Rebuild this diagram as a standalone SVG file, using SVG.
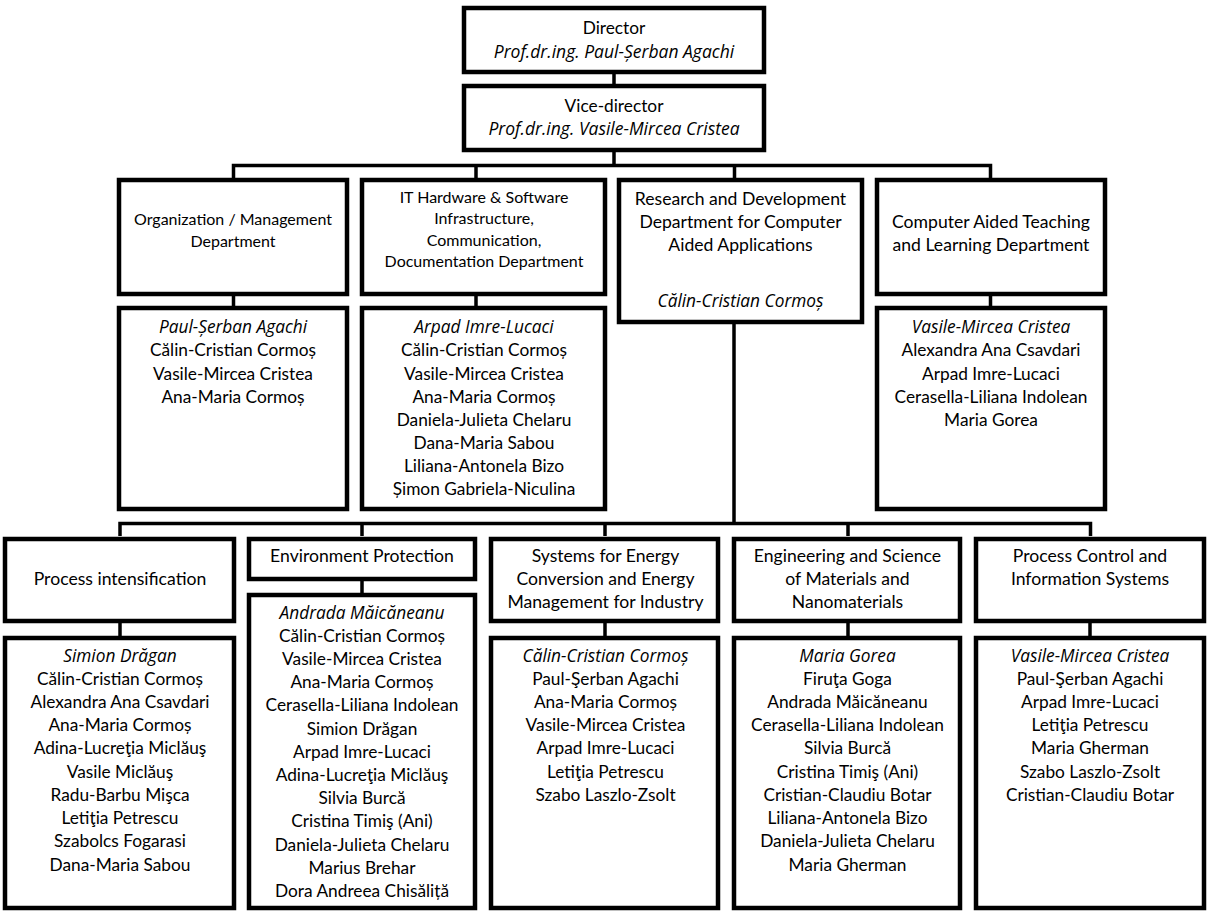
<svg xmlns="http://www.w3.org/2000/svg" width="1209" height="913" viewBox="0 0 1209 913">
<style>
.box{fill:#fff;stroke:#000;stroke-width:4.5}
.c{fill:none;stroke:#000;stroke-width:3.5}
text{font-family:Lato,"Liberation Sans",sans-serif;font-size:17.3px;text-anchor:middle;fill:#000}
.h{font-size:16px}
.hl{font-size:17.6px}
.i{font-family:"Open Sans","Noto Sans",sans-serif;font-style:italic;font-size:17.3px}
.id{font-family:"Open Sans","Noto Sans",sans-serif;font-style:italic;font-size:17.5px}
</style>
<rect width="1209" height="913" fill="#fff"/>
<g id="connectors">
<path class="c" d="M614,74V84M614,152V165.5M233.5,178V165.5H990.5V178M476,165.5V178M734.5,165.5V178"/>
<path class="c" d="M233.5,296V306M476,296V306M990.5,296V306M734,324V523.5"/>
<path class="c" d="M120,536V523.5H1090.5V536M362,523.5V536M605,523.5V536M848,523.5V536"/>
<path class="c" d="M120,623V636M362,581V593M605,623V636M848,623V636M1090,623V636"/>
</g>
<g id="director">
<rect class="box" x="464" y="8" width="300" height="64"/>
<text x="614" y="34">Director</text>
<text class="id" x="614" y="58">Prof.dr.ing. Paul-Șerban Agachi</text>
</g>
<g id="vice-director">
<rect class="box" x="464" y="86" width="300" height="64"/>
<text x="614" y="112">Vice-director</text>
<text class="id" x="614" y="135">Prof.dr.ing. Vasile-Mircea Cristea</text>
</g>
<g id="org-dept">
<rect class="box" x="119" y="180" width="228" height="114"/>
<text class="h" x="233" y="225">Organization / Management</text>
<text class="h" x="233" y="247">Department</text>
</g>
<g id="org-people">
<rect class="box" x="119" y="308" width="228" height="201"/>
<text class="i" x="233" y="333">Paul-Șerban Agachi</text>
<text x="233" y="356">Călin-Cristian Cormoș</text>
<text x="233" y="380">Vasile-Mircea Cristea</text>
<text x="233" y="403">Ana-Maria Cormoș</text>
</g>
<g id="it-dept">
<rect class="box" x="362" y="180" width="243" height="114"/>
<text class="h" x="484" y="203">IT Hardware &amp; Software</text>
<text class="h" x="484" y="224">Infrastructure,</text>
<text class="h" x="484" y="246">Communication,</text>
<text class="h" x="484" y="267">Documentation Department</text>
</g>
<g id="it-people">
<rect class="box" x="362" y="308" width="243" height="201"/>
<text class="i" x="484" y="333">Arpad Imre-Lucaci</text>
<text x="484" y="356">Călin-Cristian Cormoș</text>
<text x="484" y="380">Vasile-Mircea Cristea</text>
<text x="484" y="403">Ana-Maria Cormoș</text>
<text x="484" y="426">Daniela-Julieta Chelaru</text>
<text x="484" y="449">Dana-Maria Sabou</text>
<text x="484" y="472">Liliana-Antonela Bizo</text>
<text x="484" y="495">Șimon Gabriela-Niculina</text>
</g>
<g id="research-dept">
<rect class="box" x="619" y="180" width="243" height="142"/>
<text class="hl" x="740.5" y="205">Research and Development</text>
<text class="hl" x="740.5" y="228">Department for Computer</text>
<text class="hl" x="740.5" y="251">Aided Applications</text>
<text class="i" x="740.5" y="307">Călin-Cristian Cormoș</text>
</g>
<g id="cat-dept">
<rect class="box" x="877" y="180" width="228" height="114"/>
<text class="hl" x="991" y="228">Computer Aided Teaching</text>
<text class="hl" x="991" y="251">and Learning Department</text>
</g>
<g id="cat-people">
<rect class="box" x="877" y="308" width="228" height="201"/>
<text class="i" x="991" y="333">Vasile-Mircea Cristea</text>
<text x="991" y="356">Alexandra Ana Csavdari</text>
<text x="991" y="380">Arpad Imre-Lucaci</text>
<text x="991" y="403">Cerasella-Liliana Indolean</text>
<text x="991" y="426">Maria Gorea</text>
</g>
<g id="pi-group">
<rect class="box" x="5" y="539" width="229" height="82"/>
<text class="hl" x="120" y="585">Process intensification</text>
</g>
<g id="pi-people">
<rect class="box" x="5" y="638" width="229" height="270"/>
<text class="i" x="120" y="662">Simion Drăgan</text>
<text x="120" y="685">Călin-Cristian Cormoș</text>
<text x="120" y="708">Alexandra Ana Csavdari</text>
<text x="120" y="731">Ana-Maria Cormoș</text>
<text x="120" y="754">Adina-Lucreţia Miclăuş</text>
<text x="120" y="778">Vasile Miclăuş</text>
<text x="120" y="801">Radu-Barbu Mişca</text>
<text x="120" y="824">Letiţia Petrescu</text>
<text x="120" y="847">Szabolcs Fogarasi</text>
<text x="120" y="871">Dana-Maria Sabou</text>
</g>
<g id="env-group">
<rect class="box" x="249" y="539" width="226" height="40"/>
<text class="hl" x="362" y="562">Environment Protection</text>
</g>
<g id="env-people">
<rect class="box" x="249" y="595" width="226" height="313"/>
<text class="i" x="362" y="619">Andrada Măicăneanu</text>
<text x="362" y="642">Călin-Cristian Cormoș</text>
<text x="362" y="665">Vasile-Mircea Cristea</text>
<text x="362" y="688">Ana-Maria Cormoș</text>
<text x="362" y="711">Cerasella-Liliana Indolean</text>
<text x="362" y="735">Simion Drăgan</text>
<text x="362" y="758">Arpad Imre-Lucaci</text>
<text x="362" y="781">Adina-Lucreţia Miclăuş</text>
<text x="362" y="804">Silvia Burcă</text>
<text x="362" y="827">Cristina Timiş (Ani)</text>
<text x="362" y="851">Daniela-Julieta Chelaru</text>
<text x="362" y="874">Marius Brehar</text>
<text x="362" y="897">Dora Andreea Chisăliță</text>
</g>
<g id="energy-group">
<rect class="box" x="491" y="539" width="227" height="82"/>
<text class="hl" x="605.5" y="562">Systems for Energy</text>
<text class="hl" x="605.5" y="585">Conversion and Energy</text>
<text class="hl" x="605.5" y="608">Management for Industry</text>
</g>
<g id="energy-people">
<rect class="box" x="491" y="638" width="227" height="270"/>
<text class="i" x="605.5" y="662">Călin-Cristian Cormoș</text>
<text x="605.5" y="685">Paul-Şerban Agachi</text>
<text x="605.5" y="708">Ana-Maria Cormoș</text>
<text x="605.5" y="731">Vasile-Mircea Cristea</text>
<text x="605.5" y="754">Arpad Imre-Lucaci</text>
<text x="605.5" y="778">Letiţia Petrescu</text>
<text x="605.5" y="801">Szabo Laszlo-Zsolt</text>
</g>
<g id="materials-group">
<rect class="box" x="734" y="539" width="226" height="82"/>
<text class="hl" x="847.5" y="562">Engineering and Science</text>
<text class="hl" x="847.5" y="585">of Materials and</text>
<text class="hl" x="847.5" y="608">Nanomaterials</text>
</g>
<g id="materials-people">
<rect class="box" x="734" y="638" width="226" height="270"/>
<text class="i" x="847.5" y="662">Maria Gorea</text>
<text x="847.5" y="685">Firuţa Goga</text>
<text x="847.5" y="708">Andrada Măicăneanu</text>
<text x="847.5" y="731">Cerasella-Liliana Indolean</text>
<text x="847.5" y="754">Silvia Burcă</text>
<text x="847.5" y="778">Cristina Timiş (Ani)</text>
<text x="847.5" y="801">Cristian-Claudiu Botar</text>
<text x="847.5" y="824">Liliana-Antonela Bizo</text>
<text x="847.5" y="847">Daniela-Julieta Chelaru</text>
<text x="847.5" y="871">Maria Gherman</text>
</g>
<g id="control-group">
<rect class="box" x="976" y="539" width="228" height="82"/>
<text class="hl" x="1090" y="562">Process Control and</text>
<text class="hl" x="1090" y="585">Information Systems</text>
</g>
<g id="control-people">
<rect class="box" x="976" y="638" width="228" height="270"/>
<text class="i" x="1090" y="662">Vasile-Mircea Cristea</text>
<text x="1090" y="685">Paul-Şerban Agachi</text>
<text x="1090" y="708">Arpad Imre-Lucaci</text>
<text x="1090" y="731">Letiţia Petrescu</text>
<text x="1090" y="754">Maria Gherman</text>
<text x="1090" y="778">Szabo Laszlo-Zsolt</text>
<text x="1090" y="801">Cristian-Claudiu Botar</text>
</g>
</svg>
